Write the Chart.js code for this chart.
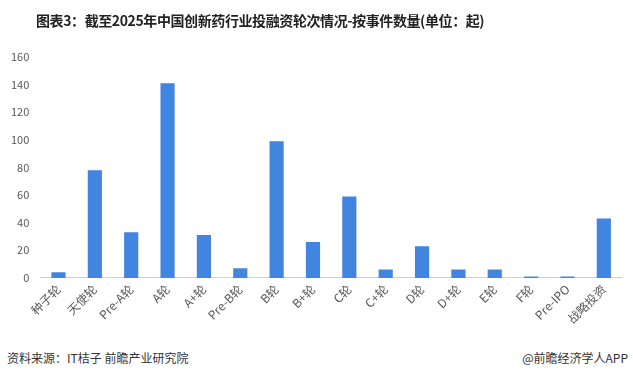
<!DOCTYPE html>
<html>
<head>
<meta charset="utf-8">
<script src="https://cdn.jsdelivr.net/npm/chart.js@4"></script>
<style>
  body { margin: 0; background: #fff; font-family: "Noto Sans CJK SC", sans-serif; }
  #wrap { position: relative; width: 633px; height: 377px; }
  #title { position: absolute; left: 36px; top: 10px; font-size: 14px; font-weight: bold; color: #222; white-space: nowrap; letter-spacing: -0.4px; }
  #source { position: absolute; left: 7px; top: 349px; font-size: 12px; color: #333; }
  #brand { position: absolute; right: 5px; top: 349px; font-size: 12px; color: #333; }
  #box { position: absolute; left: 0; top: 0; width: 633px; height: 330px; }
</style>
</head>
<body>
<div id="wrap">
  <div id="box"><canvas id="chart"></canvas></div>
  <div id="title">图表3：截至2025年中国创新药行业投融资轮次情况-按事件数量(单位：起)</div>
  <div id="source">资料来源：IT桔子 前瞻产业研究院</div>
  <div id="brand">@前瞻经济学人APP</div>
</div>
<script>
const rounds = ["种子轮", "天使轮", "Pre-A轮", "A轮", "A+轮", "Pre-B轮", "B轮", "B+轮",
  "C轮", "C+轮", "D轮", "D+轮", "E轮", "F轮", "Pre-IPO", "战略投资"];
const counts = [4, 78, 33, 141, 31, 7, 99, 26, 59, 6, 23, 6, 6, 1, 1, 43];
const yTicks = [0, 20, 40, 60, 80, 100, 120, 140, 160];

new Chart(document.getElementById("chart"), {
  type: "bar",
  data: {
    labels: rounds,
    datasets: [
      {
        data: counts,
        backgroundColor: "#4285e0",
        barPercentage: 0.78,
        categoryPercentage: 0.5,
      },
    ],
  },
  options: {
    responsive: true,
    maintainAspectRatio: false,
    animation: false,
    layout: { padding: { top: 57, right: 11, left: 0, bottom: 0 } },
    plugins: { legend: { display: false }, tooltip: { enabled: false } },
    scales: {
      x: {
        grid: { display: false, drawTicks: false },
        border: { color: "#d0d0d0" },
        ticks: {
          color: "#595959",
          font: { size: 12, family: "'Noto Sans CJK SC', sans-serif" },
          minRotation: 45,
          maxRotation: 45,
          padding: 4,
        },
      },
      y: {
        min: 0,
        max: 160,
        afterBuildTicks: (axis) => {
          axis.ticks = yTicks.map((v) => ({ value: v }));
        },
        grid: { display: false, drawTicks: false },
        border: { display: false },
        ticks: {
          color: "#595959",
          font: { size: 11, family: "'Noto Sans CJK SC', sans-serif" },
          padding: 11,
        },
      },
    },
  },
});
</script>
</body>
</html>
